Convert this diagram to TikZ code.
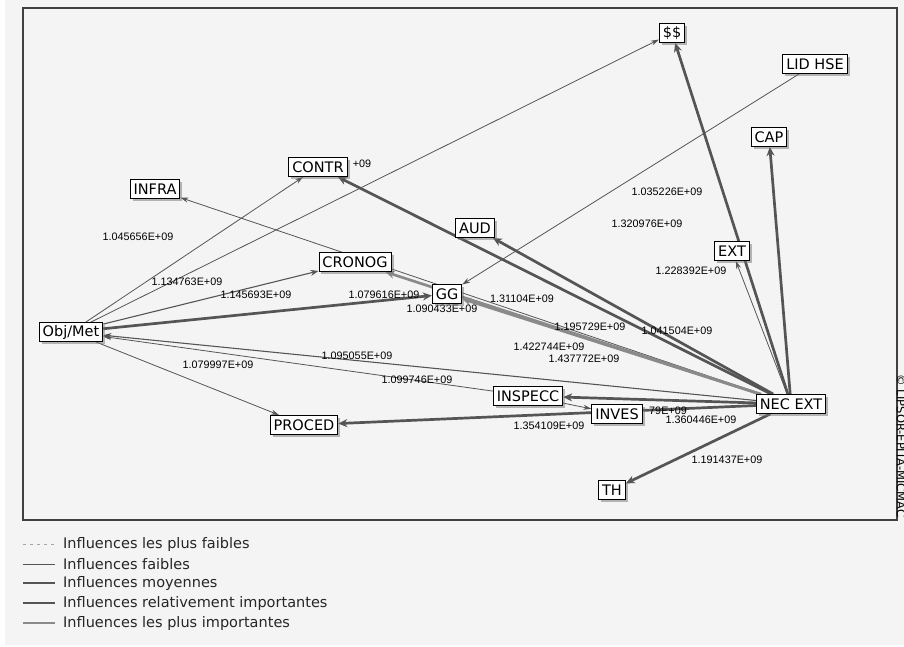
\documentclass[tikz,border=0pt]{standalone}
\usepackage{fontspec}
\newfontfamily\boxfont{DejaVu Sans}
\newfontfamily\numfont{Liberation Sans}
\usetikzlibrary{arrows.meta,shadows}
\definecolor{fond}{HTML}{F4F4F4}
\definecolor{trait}{HTML}{555555}
\definecolor{traitclair}{HTML}{8A8A8A}
\pgfdeclarelayer{background}
\pgfsetlayers{background,main}
\tikzset{
  varbox/.style={
    draw,
    fill=white,
    line width=0.9pt,
    inner xsep=3.5pt,
    inner ysep=1pt,
    minimum height=19pt,
    font=\boxfont\fontsize{14.5}{16}\selectfont,
    drop shadow={shadow xshift=2.5pt, shadow yshift=-2.5pt, fill=black!55}
  },
  valeur/.style={
    inner sep=0pt,
    font=\numfont\fontsize{10.8}{12}\selectfont
  },
  faible/.style={draw=trait, line width=0.8pt, -{Stealth[length=8pt, width=5pt]}},
  moyenne/.style={draw=trait, line width=1.1pt, -{Stealth[length=8pt, width=6pt]}},
  forte/.style={draw=trait, line width=2.7pt, -{Stealth[length=9pt, width=8pt]}},
  tresforte/.style={draw=traitclair, line width=2.7pt, -{Stealth[length=9pt, width=8pt]}},
  legende/.style={anchor=west, inner sep=0pt, text=black!85, font=\boxfont\fontsize{14.5}{16}\selectfont}
}

\begin{document}
\begin{tikzpicture}[x=1pt, y=-1pt]
  \useasboundingbox (0,0) rectangle (904,646);

  % variables
  \node[varbox] (dollar) at (672,33) {\$\$};
  \node[varbox] (lidhse) at (815,64) {LID HSE};
  \node[varbox] (cap) at (769,137) {CAP};
  \node[varbox] (ext) at (732,251) {EXT};
  \node[varbox] (aud) at (475,228) {AUD};
  \node[varbox] (gg) at (447,294) {GG};
  \node[varbox] (contr) at (318,167) {CONTR};
  \node[varbox] (infra) at (155,189) {INFRA};
  \node[varbox] (cronog) at (355,262) {CRONOG};
  \node[varbox] (objmet) at (71,332) {Obj/Met};
  \node[varbox] (proced) at (304,425) {PROCED};
  \node[varbox] (inspecc) at (528,396) {INSPECC};
  \node[varbox] (inves) at (617,414) {INVES};
  \node[varbox] (necext) at (791,404) {NEC EXT};
  \node[varbox] (th) at (612,490) {TH};

  \begin{pgfonlayer}{background}
    \fill[fond] (5,0) rectangle (904,645);
    \draw[black!75, line width=1.2pt] (23,8) rectangle (897,520);

    % influences
    \draw[faible] (objmet) -- (dollar);
    \draw[faible] (objmet) -- (contr);
    \draw[moyenne] (objmet) -- (cronog);
    \draw[forte] (objmet) -- (gg);
    \draw[faible] (objmet) -- (proced);
    \draw[faible] (inspecc) -- (objmet);
    \draw[moyenne] (necext) -- (objmet);
    \draw[forte] (necext) -- (dollar);
    \draw[faible] (necext) -- (ext);
    \draw[forte] (necext) -- (cap);
    \draw[faible] (lidhse) -- (gg);
    \draw[forte] (necext) -- (contr);
    \draw[forte] (necext) -- (aud);
    \draw[faible] (necext) -- (infra);
    \draw[tresforte] (necext) -- (gg);
    \draw[tresforte] (necext) -- (cronog);
    \draw[forte] (necext) -- (inspecc);
    \draw[forte] (necext) -- (proced);
    \draw[faible] (inspecc) -- (inves);
    \draw[forte] (necext) -- (th);

    % valeurs
    \node[valeur] (v1) at (138,237) {1.045656E+09};
    \node[valeur] (v2) at (187,282) {1.134763E+09};
    \node[valeur] (v3) at (256,295) {1.145693E+09};
    \node[valeur] (v4) at (384,295) {1.079616E+09};
    \node[valeur] (v5) at (442,309) {1.090433E+09};
    \node[valeur] (v6) at (522,299) {1.31104E+09};
    \node[valeur] (v7) at (590,327) {1.195729E+09};
    \node[valeur] (v8) at (549,347) {1.422744E+09};
    \node[valeur] (v9) at (584,359) {1.437772E+09};
    \node[valeur] (v10) at (677,331) {1.041504E+09};
    \node[valeur] (v11) at (357,356) {1.095055E+09};
    \node[valeur] (v12) at (218,365) {1.079997E+09};
    \node[valeur] (v13) at (417,380) {1.099746E+09};
    \node[valeur] (v14) at (549,426) {1.354109E+09};
    \node[valeur] (v15) at (668,411) {79E+09};
    \node[valeur] (v16) at (701,420) {1.360446E+09};
    \node[valeur] (v17) at (727,460) {1.191437E+09};
    \node[valeur] (v18) at (667,192) {1.035226E+09};
    \node[valeur] (v19) at (647,224) {1.320976E+09};
    \node[valeur] (v20) at (691,271) {1.228392E+09};
    \node[valeur] (v21) at (362,164) {+09};
  \end{pgfonlayer}

  \node[valeur, rotate=-90, font=\boxfont\fontsize{11.5}{13}\selectfont] (copy) at (901,446) {© LIPSOR-EPITA-MICMAC};

  % legende
  \coordinate (k1a) at (23,544); \coordinate (k1b) at (55,544);
  \coordinate (k2a) at (23,564); \coordinate (k2b) at (55,564);
  \coordinate (k3a) at (23,583); \coordinate (k3b) at (55,583);
  \coordinate (k4a) at (23,603); \coordinate (k4b) at (55,603);
  \coordinate (k5a) at (23,623); \coordinate (k5b) at (55,623);
  \draw[black!35, line width=0.8pt, dash pattern=on 3pt off 4pt] (k1a) -- (k1b);
  \draw[faible, -] (k2a) -- (k2b);
  \draw[moyenne, -] (k3a) -- (k3b);
  \draw[forte, -] (k4a) -- (k4b);
  \draw[tresforte, -] (k5a) -- (k5b);
  \node[legende] (leg1) at (63,544) {Influences les plus faibles};
  \node[legende] (leg2) at (63,564) {Influences faibles};
  \node[legende] (leg3) at (63,583) {Influences moyennes};
  \node[legende] (leg4) at (63,603) {Influences relativement importantes};
  \node[legende] (leg5) at (63,623) {Influences les plus importantes};
\end{tikzpicture}
\end{document}
